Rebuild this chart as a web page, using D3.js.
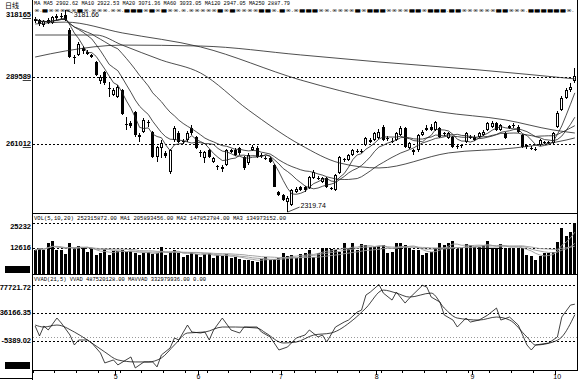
<!DOCTYPE html>
<html><head><meta charset="utf-8">
<script src="https://cdn.jsdelivr.net/npm/d3@7"></script>
<style>body{margin:0;background:#fff}svg{display:block}</style>
</head><body><svg id="c" width="580" height="380"></svg>
<script>
// ---------- data ----------
const monthLabels = ["5","6","7","8","9","10"];
const monthStartDay = [19,38,57,79,101,120];
const openP  = [3135,3140,3118,3138,3128,3148,3150,3162,3096,2980,2990,3020,3002,2990,2960,2880,2917,2850,2820,2811,2840,2695,2700,2747,2650,2660,2700,2661,2555,2595,2572,2491,2627,2657,2625,2627,2678,2640,2578,2550,2585,2533,2515,2510,2521,2576,2585,2593,2555,2529,2585,2593,2563,2552,2550,2521,2405,2393,2363,2350,2405,2427,2425,2423,2465,2465,2448,2465,2423,2414,2486,2545,2542,2563,2580,2578,2606,2627,2627,2636,2683,2630,2625,2627,2649,2678,2593,2585,2585,2649,2670,2683,2670,2678,2652,2636,2640,2600,2605,2619,2640,2640,2640,2649,2670,2683,2700,2670,2657,2678,2685,2683,2649,2606,2595,2590,2606,2619,2614,2614,2683,2755,2806,2840,2880];
const closeP = [3145,3120,3135,3125,3150,3155,3158,3140,2981,2983,3035,3005,2995,2982,2904,2898,2870,2845,2840,2853,2738,2690,2688,2649,2640,2713,2705,2555,2597,2615,2558,2585,2678,2619,2620,2657,2657,2593,2574,2576,2555,2550,2512,2505,2585,2585,2563,2572,2508,2563,2597,2555,2558,2548,2533,2427,2393,2371,2380,2414,2420,2414,2412,2469,2491,2460,2465,2427,2418,2478,2555,2540,2563,2585,2575,2582,2636,2620,2657,2661,2627,2636,2618,2657,2678,2597,2614,2576,2649,2661,2678,2670,2704,2640,2657,2657,2597,2602,2600,2657,2636,2627,2657,2661,2700,2700,2670,2691,2636,2687,2690,2661,2597,2597,2593,2588,2627,2614,2617,2657,2742,2806,2840,2853,2900];
const highP  = [3152,3145,3140,3148,3158,3165,3168,3181.66,3105,2990,3045,3030,3010,2995,2965,2905,2920,2875,2848,2860,2845,2725,2710,2750,2657,2720,2713,2665,2600,2627,2580,2590,2685,2665,2632,2665,2690,2645,2585,2580,2590,2555,2521,2521,2590,2590,2593,2597,2560,2570,2605,2600,2572,2560,2555,2525,2410,2397,2390,2420,2425,2432,2430,2475,2498,2472,2470,2470,2428,2482,2560,2552,2568,2590,2590,2590,2640,2635,2662,2672,2690,2645,2636,2662,2685,2683,2620,2590,2653,2670,2690,2695,2710,2683,2662,2662,2645,2610,2612,2662,2650,2648,2662,2668,2705,2710,2705,2697,2662,2693,2700,2690,2652,2610,2600,2597,2632,2625,2625,2662,2750,2815,2850,2870,2935];
const lowP   = [3128,3112,3110,3120,3122,3140,3145,3135,2975,2950,2985,2995,2988,2975,2900,2865,2860,2811,2815,2805,2735,2670,2680,2640,2619,2655,2683,2550,2533,2550,2550,2481,2620,2615,2612,2620,2650,2590,2555,2529,2550,2528,2499,2491,2515,2572,2560,2565,2500,2520,2580,2550,2550,2540,2527,2425,2390,2365,2319.74,2345,2400,2408,2405,2420,2460,2455,2444,2423,2412,2410,2482,2533,2538,2558,2570,2572,2600,2615,2622,2630,2622,2622,2614,2622,2645,2593,2588,2565,2578,2645,2665,2665,2665,2636,2645,2630,2593,2590,2592,2615,2630,2622,2636,2645,2665,2678,2665,2665,2630,2672,2680,2655,2593,2590,2585,2580,2600,2608,2610,2610,2680,2750,2800,2830,2870];
// volume in 10,000 lots
const volume = [11800,12900,11800,15100,16200,11800,11800,9900,15400,12900,
13800,12900,11000,12600,9300,10200,12300,9300,11300,11300,
11800,11000,11500,10200,9300,10500,11000,9700,10200,13400,
9300,11000,11800,10200,8500,9300,11000,9700,8500,9900,
10200,7700,9300,8800,9700,7700,8200,7200,6900,6900,
6600,6100,7200,8200,6900,7200,7700,10200,8800,9300,
7700,9700,10200,11800,8500,10200,12600,12900,12300,11800,
11000,15100,12600,15400,11800,14600,14300,13400,13400,13800,
14300,10200,11000,15100,15100,14300,12600,11800,11800,9300,
10200,11000,12600,15400,14300,15100,16200,12300,12600,14600,
14300,13400,13400,14240,16360,12760,12760,14730,12800,12800,
12800,12800,12800,9310,8820,6850,8820,10450,10450,10940,
15870,22500,18680,20500,25232];
// long moving averages (day index -> value)
const ma60Days   = [0,14,20,29,38,49,61,70,79,95,110,122,124];
const ma60Values = [3075,3075,3032,2968,2913,2755,2606,2529,2508,2572,2593,2627,2636];
const ma120Days   = [0,7,20,38,61,79,93,108,119,124];
const ma120Values = [3122,3130,3084,3024,2883,2798,2747,2713,2670,2657];
const ma250Days   = [0,7,20,38,61,79,102,124];
const ma250Values = [2981,3007,3032,3028,2990,2960,2926,2887.79];
// VVAD (21,5), 10,000 units
const vvadDays = [0,1,2,3,5,6,8,9,10,12,13,15,16,18,19,22,23,25,27,28,29,31,32,33,35,36,38,39,40,41,43,45,47,48,51,52,54,56,58,60,62,63,65,66,67,69,71,72,74,75,76,77,79,80,82,83,85,86,89,90,91,93,94,96,97,99,100,102,104,106,107,109,111,113,114,115,118,120,121,123,124];
const vvadValues = [16600,2000,16600,10770,28390,21050,3430,-11250,-3910,-3910,-8300,-22990,-37670,-33270,-40600,-28870,-45000,-36200,-36200,-43500,-25960,-15650,-970,-3910,18100,7840,6370,7840,-3910,10770,28390,10770,6370,15170,15170,7840,500,-18590,-14180,-970,3430,10770,500,3430,-6840,15170,22510,25450,37200,40130,62150,66560,77720,65090,54810,66560,50410,57750,76500,73900,59220,51880,32790,25450,15170,28390,22510,25450,32790,43070,25450,29860,18100,-11250,-18590,-11250,-8310,500,29860,47470,48752];
const mavvadDays = [0,2,5,9,12,16,19,23,26,29,32,35,39,43,46,51,53,57,60,64,68,73,76,80,83,86,91,94,97,102,106,109,113,115,119,121,124];
const mavvadValues = [18100,15170,18100,7840,-3910,-21530,-33270,-36200,-36200,-30330,-11250,6370,7840,15170,15170,13700,6370,-8310,-6840,3430,6370,25450,43070,69500,65090,59220,65090,43070,28390,25450,29860,25450,500,-11250,-6840,500,33298];
// axis tick values / labels
const priceTicks = [3181.65,2895.89,2610.12];
const priceTickLabels = ["318165","289589","261012"];
const volTicks = [25232,12616];
const volTickLabels = ["25232","12616"];
const vvadTicks = [77721.72,36166.35,-5389.02];
const vvadTickLabels = ["77721.72","36166.35","-5389.02"];
const titleText = "日线";
const maHeader = "MA  MA5  2902.62  MA10  2922.53  MA20  3071.36  MA60  3033.05  MA120  2947.05  MA250  2887.79";
const maHeader2 = "※.■※※※※※■※.※※※.※※.■■■※■※■※※.※.※※※※※■※■※※※※■■※.■※.※■■■※※.※※※※■※■■■※※※※■■※■■■.■■※※※※※※■■※※※.■■■■■■※.";
const volHeader = "VOL(5,10,20)  252315872.00  MA1  205893456.00  MA2  147852784.00  MA3  134973152.00";
const vvadHeader = "VVAD(21,5)  VVAD  487520128.00  MAVVAD  332979936.00   0.00";
const highLabel = "3181.66", lowLabel = "2319.74";

// ---------- chart ----------
const svg = d3.select("#c");
const N = openP.length;
const L = 33, R = 577;
const x = d3.scaleBand().domain(d3.range(N)).range([L, R]);
const bw = x.bandwidth();
const cx = i => x(i) + bw / 2;
const yP = d3.scaleLinear().domain([2610.12, 2895.89]).range([144, 77]);
const yV = d3.scaleLinear().domain([0, 25232]).range([273.9, 222.7]);
const yD = d3.scaleLinear().domain([-5389.02, 77721.72]).range([341, 284.5]);
const FONT = "'Liberation Sans', Arial, sans-serif";
const MONO = "'Liberation Mono', 'DejaVu Sans Mono', monospace";

svg.append("rect").attr("width", 580).attr("height", 380).attr("fill", "#fff");

// frame
const g = svg.append("g").attr("stroke", "#000").attr("stroke-width", 1).attr("shape-rendering", "crispEdges");
g.append("line").attr("x1", 32.5).attr("x2", 32.5).attr("y1", 0).attr("y2", 380);
g.append("line").attr("x1", 577.5).attr("x2", 577.5).attr("y1", 0).attr("y2", 371);
[213.5, 274.5, 370.5].forEach(yy => g.append("line").attr("x1", 32).attr("x2", 578).attr("y1", yy).attr("y2", yy));
g.append("line").attr("x1", 0).attr("x2", 33).attr("y1", 378.5).attr("y2", 378.5);

// dashed reference lines
const dash = svg.append("g").attr("stroke", "#000").attr("stroke-width", 1).attr("stroke-dasharray", "2,2").attr("shape-rendering", "crispEdges");
priceTicks.slice(1).forEach(v => { const yy = Math.round(yP(v)) + 0.5; dash.append("line").attr("x1", L).attr("x2", R).attr("y1", yy).attr("y2", yy); });
volTicks.forEach(v => { const yy = Math.round(yV(v)) + 0.5; dash.append("line").attr("x1", L).attr("x2", R).attr("y1", yy).attr("y2", yy); });
vvadTicks.forEach(v => { const yy = Math.round(yD(v)) + 0.5; dash.append("line").attr("x1", L).attr("x2", R).attr("y1", yy).attr("y2", yy); });
{ const yy = Math.round(yD(0)) + 0.5; dash.append("line").attr("x1", L).attr("x2", R).attr("y1", yy).attr("y2", yy).attr("stroke", "#999").attr("stroke-dasharray", "1,2"); }

// axis labels
function tickLabel(yy, minY) {
  return svg.append("text").attr("x", 31).attr("y", Math.max(yy, minY)).attr("text-anchor", "end")
    .attr("dominant-baseline", "middle").attr("font-family", FONT).attr("font-weight", "bold").attr("font-size", 7.5).attr("fill", "#000");
}
priceTicks.forEach((v, k) => {
  const s = priceTickLabels[k];
  const t = tickLabel(yP(v), 15);
  t.append("tspan").text(s.slice(0, 4));
  t.append("tspan").attr("text-decoration", "underline").text(s.slice(4));
});
volTicks.forEach((v, k) => tickLabel(yV(v), 227).text(volTickLabels[k]));
vvadTicks.forEach((v, k) => tickLabel(yD(v), 288).text(vvadTickLabels[k]));
svg.append("rect").attr("x", 5).attr("y", 266).attr("width", 25).attr("height", 7).attr("fill", "#000");
svg.append("rect").attr("x", 5).attr("y", 362).attr("width", 25).attr("height", 7).attr("fill", "#000");

// header texts
svg.append("text").attr("x", 5).attr("y", 7.5).attr("font-family", "'Noto Sans CJK SC', sans-serif").attr("font-size", 7).text(titleText);
svg.append("text").attr("x", 34).attr("y", 5).attr("font-family", MONO).attr("font-size", 5).attr("textLength", 256).attr("lengthAdjust", "spacingAndGlyphs").text(maHeader);
svg.append("text").attr("x", 34).attr("y", 11.5).attr("font-family", "'DejaVu Sans', sans-serif").attr("font-size", 4.2).attr("textLength", 540).attr("lengthAdjust", "spacingAndGlyphs").text(maHeader2);
svg.append("text").attr("x", 34).attr("y", 220).attr("font-family", MONO).attr("font-size", 5.5).attr("textLength", 252).attr("lengthAdjust", "spacingAndGlyphs").text(volHeader);
svg.append("text").attr("x", 34).attr("y", 281).attr("font-family", MONO).attr("font-size", 5.5).attr("textLength", 172).attr("lengthAdjust", "spacingAndGlyphs").text(vvadHeader);

// candles
const cg = svg.append("g").attr("shape-rendering", "crispEdges");
for (let i = 0; i < N; i++) {
  const c = Math.floor(cx(i));
  const up = closeP[i] >= openP[i];
  cg.append("line").attr("x1", c + 0.5).attr("x2", c + 0.5).attr("y1", yP(highP[i])).attr("y2", yP(lowP[i])).attr("stroke", "#000");
  const top = Math.round(yP(Math.max(openP[i], closeP[i])));
  const bot = Math.round(yP(Math.min(openP[i], closeP[i])));
  const h = Math.max(1, bot - top);
  if (up) {
    cg.append("rect").attr("x", c - 0.5).attr("y", top + 0.5).attr("width", 2).attr("height", Math.max(0.01, h - 1))
      .attr("fill", "#fff").attr("stroke", "#000");
  } else {
    cg.append("rect").attr("x", c - 1).attr("y", top).attr("width", 3).attr("height", h).attr("fill", "#000");
  }
}

// moving averages
function movAvg(arr, n) { return arr.map((_, i) => d3.mean(arr.slice(Math.max(0, i - n + 1), i + 1))); }
const lineP = d3.line().x((d, i) => cx(i)).y(d => yP(d));
const mg = svg.append("g").attr("fill", "none").attr("stroke", "#222").attr("stroke-width", 0.8);
[5, 10, 20].forEach(n => mg.append("path").attr("d", lineP(movAvg(closeP, n))));
const lineS = d3.line().x(d => cx(d[0])).y(d => yP(d[1])).curve(d3.curveMonotoneX);
[[ma60Days, ma60Values], [ma120Days, ma120Values], [ma250Days, ma250Values]].forEach(([ds, vs]) =>
  mg.append("path").attr("d", lineS(ds.map((d, k) => [d, vs[k]]))));

// annotations
const hi = d3.maxIndex(highP), lo = d3.minIndex(lowP);
svg.append("line").attr("x1", cx(hi)).attr("y1", yP(highP[hi])).attr("x2", cx(hi) + 7).attr("y2", 13).attr("stroke", "#000").attr("stroke-width", 0.7);
svg.append("text").attr("x", cx(hi) + 8).attr("y", 17).attr("font-family", FONT).attr("font-size", 7).text(highLabel);
svg.append("line").attr("x1", cx(lo)).attr("y1", yP(lowP[lo])).attr("x2", cx(lo) + 12).attr("y2", yP(lowP[lo]) - 5).attr("stroke", "#000").attr("stroke-width", 0.7);
svg.append("text").attr("x", cx(lo) + 13).attr("y", yP(lowP[lo]) - 4).attr("font-family", FONT).attr("font-size", 7).text(lowLabel);

// volume bars
const vg = svg.append("g").attr("shape-rendering", "crispEdges");
volume.forEach((v, i) => {
  const c = Math.floor(cx(i));
  vg.append("rect").attr("x", c - 1).attr("y", Math.round(yV(v))).attr("width", 3).attr("height", 274 - Math.round(yV(v))).attr("fill", "#000");
});
const lineV = d3.line().x((d, i) => cx(i)).y(d => yV(d));
const vmg = svg.append("g").attr("fill", "none").attr("stroke", "#9a9a9a").attr("stroke-width", 0.9);
[5, 10, 20].forEach(n => vmg.append("path").attr("d", lineV(movAvg(volume, n))));

// VVAD
const lineD = d3.line().x(d => cx(d[0])).y(d => yD(d[1]));
const dg = svg.append("g").attr("fill", "none").attr("stroke", "#111").attr("stroke-width", 0.8);
dg.append("path").attr("d", lineD(vvadDays.map((d, k) => [d, vvadValues[k]])));
dg.append("path").attr("d", lineD.curve(d3.curveMonotoneX)(mavvadDays.map((d, k) => [d, mavvadValues[k]])));

// x axis
const xa = svg.append("g").attr("stroke", "#000").attr("shape-rendering", "crispEdges");
for (let i = 0; i < N; i += 5) xa.append("line").attr("x1", Math.floor(x(i)) + 0.5).attr("x2", Math.floor(x(i)) + 0.5).attr("y1", 371).attr("y2", 373);
monthStartDay.forEach((d, k) => {
  xa.append("line").attr("x1", Math.floor(x(d)) + 0.5).attr("x2", Math.floor(x(d)) + 0.5).attr("y1", 371).attr("y2", 375);
  svg.append("text").attr("x", x(d) - 2).attr("y", 379).attr("font-family", FONT).attr("font-size", 7).text(monthLabels[k]);
});
</script></body></html>
